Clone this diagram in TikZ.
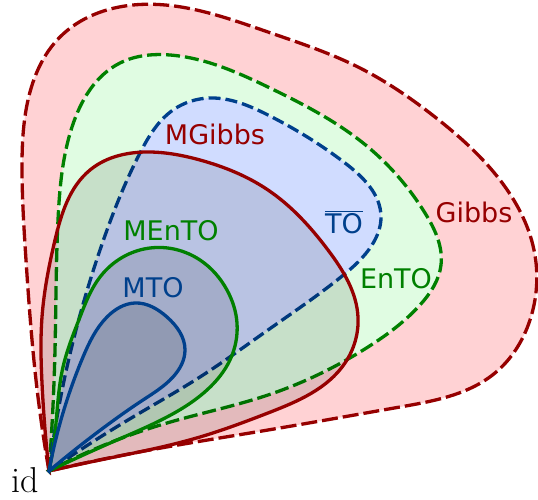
\documentclass[tikz,border=0pt]{standalone}
\usepackage{fontspec}
\setsansfont{DejaVu Sans}
\usetikzlibrary{hobby}
\definecolor{gibbsred}{RGB}{150,0,0}
\definecolor{entogreen}{RGB}{0,128,0}
\definecolor{toblue}{RGB}{0,64,140}
\definecolor{gibbsfill}{RGB}{255,210,212}
\definecolor{entofill}{RGB}{224,252,226}
\definecolor{tofill}{RGB}{208,220,255}
\def\lw{3.3pt}
\begin{document}
\begin{tikzpicture}[x=1pt,y=-1pt,
    outerset/.style={line width=\lw, dash pattern=on 16pt off 5pt},
    innerset/.style={line width=\lw, fill=black, fill opacity=0.11},
    setname/.style={font=\sffamily\fontsize{27}{30}\selectfont, inner sep=0pt, anchor=base},
    ]
    \useasboundingbox (0,0) rectangle (538,500);
    \coordinate (id) at (49,471);
    % dashed sets
    \draw[outerset, gibbsred, fill=gibbsfill] (id) to[curve through={(36,380) (26,260) (22,170) (28,100) (60,37) (133,5) (268,32) (358,67) (435,117) (500,180) (534,250) (530,320) (495,373) (400,407) (268,430) (150,450)}] (id) -- cycle;
    \draw[outerset, entogreen, fill=entofill, dash pattern=on 14pt off 5pt] (id) to[curve through={(55,350) (58,220) (72,127) (120,63) (170,55) (270,88) (368,147) (425,213) (441,265) (420,305) (368,347) (268,395) (167,423)}] (id) -- cycle;
    \draw[outerset, toblue, fill=tofill, dash pattern=on 12pt off 5pt] (id) to[curve through={(67,367) (100,250) (140,153) (173,110) (210,98) (268,115) (345,163) (381,217) (372,245) (341,277) (268,330) (200,377) (133,417)}] (id) -- cycle;
    % solid sets
    \draw[innerset, draw=gibbsred] (id) to[curve through={(42,383) (42,317) (55,240) (90,170) (150,152) (200,160) (268,190) (328,250) (358,317) (345,363) (268,413) (200,437) (100,460)}] (id) -- cycle;
    \draw[innerset, draw=entogreen] (id) to[curve through={(55,433) (63,367) (80,317) (100,277) (150,248) (200,260) (227,290) (237,323) (230,360) (207,390) (167,417) (117,440)}] (id) -- cycle;
    \draw[innerset, draw=toblue] (id) to[curve through={(67,400) (83,357) (107,317) (135,303) (167,317) (185,350) (173,377) (143,400) (110,423)}] (id) -- cycle;
    % names
    \node[setname, gibbsred] (gibbs) at (474,222) {Gibbs};
    \node[setname, entogreen] (ento) at (396,288) {EnTO};
    \node[setname, toblue] (to) at (344,233) {$\overline{\hbox{TO}}$};
    \node[setname, gibbsred] (mgibbs) at (215,145) {MGibbs};
    \node[setname, entogreen] (mento) at (171,240) {MEnTO};
    \node[setname, toblue] (mto) at (153,297) {MTO};
    \node[font=\fontsize{36}{40}\selectfont, inner sep=0pt, anchor=base] (idname) at (25,492) {id};
\end{tikzpicture}
\end{document}
